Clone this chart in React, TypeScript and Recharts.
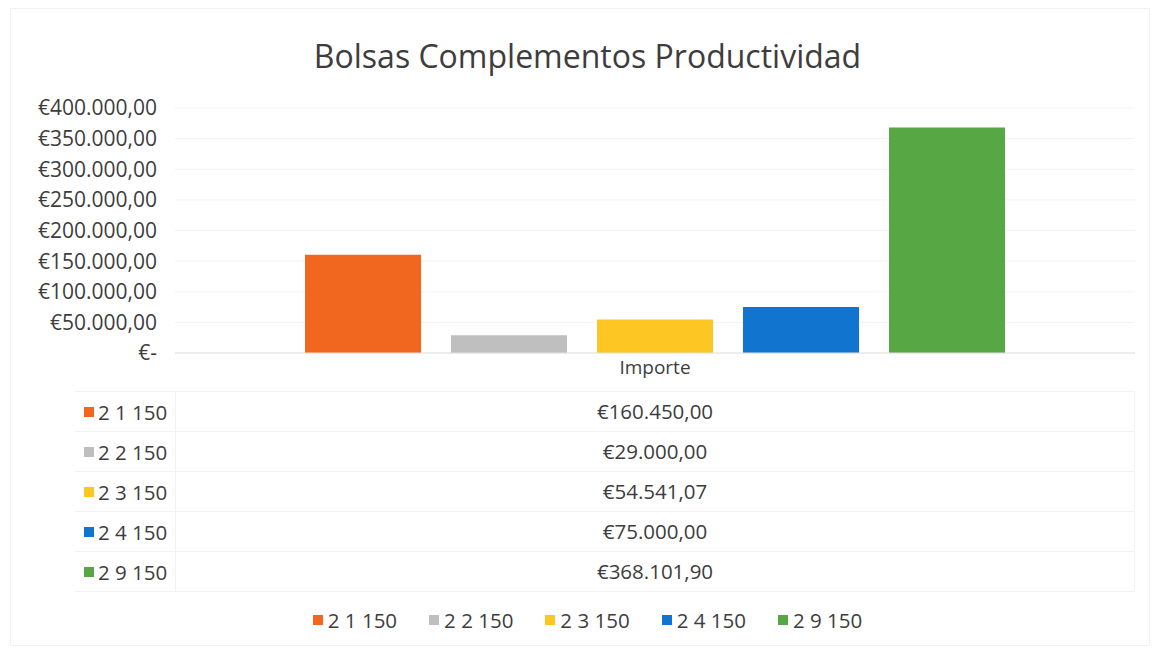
import React from 'react'
import { BarChart, Bar, XAxis, YAxis, CartesianGrid } from 'recharts'

const title = 'Bolsas Complementos Productividad'
const category = 'Importe'
const seriesNames = ['2 1 150', '2 2 150', '2 3 150', '2 4 150', '2 9 150']
const seriesValues = [160450, 29000, 54541.07, 75000, 368101.9]
const seriesColors = ['#F2671F', '#BFBFBF', '#FDC623', '#1174CF', '#57A744']
const yTicks = [0, 50000, 100000, 150000, 200000, 250000, 300000, 350000, 400000]

const FONT = '"Open Sans", "Noto Sans", sans-serif'
const TEXT = '#3d3d3d'
const LINE = '#f2f2f2'

function euro(v: number) {
  if (v === 0) return '€-'
  const [int, dec] = v.toFixed(2).split('.')
  return '€' + int.replace(/\B(?=(\d{3})+(?!\d))/g, '.') + ',' + dec
}

const row: Record<string, string | number> = { name: category }
seriesNames.forEach((n, i) => {
  row[n] = seriesValues[i]
})
const chartData = [row]

export default function App() {
  return (
    <div
      style={{
        position: 'absolute',
        left: 0,
        top: 0,
        width: 1155,
        height: 650,
        background: '#fff',
        fontFamily: FONT,
        color: TEXT,
      }}
    >
      <div
        style={{
          position: 'absolute',
          left: 10,
          top: 8,
          width: 1138,
          height: 636,
          border: '1px solid #f2f2f2',
        }}
      />
      <div
        style={{
          position: 'absolute',
          top: 34,
          left: 0,
          width: 1175,
          textAlign: 'center',
          fontSize: 32,
          lineHeight: '44px',
        }}
      >
        {title}
      </div>

      <div style={{ position: 'absolute', left: 0, top: 0 }}>
        <BarChart
          width={1155}
          height={650}
          data={chartData}
          margin={{ top: 108, right: 20, bottom: 267, left: 0 }}
          barCategoryGap={130}
          barGap={30}
        >
          <CartesianGrid vertical={false} stroke={LINE} />
          <XAxis
            dataKey="name"
            height={30}
            axisLine={{ stroke: '#e0e0e0' }}
            tickLine={false}
            tickSize={0}
            tickMargin={8}
            tick={{ fill: TEXT, fontSize: 19, fontFamily: FONT }}
          />
          <YAxis
            width={175}
            domain={[0, 400000]}
            ticks={yTicks}
            interval={0}
            axisLine={false}
            tickLine={false}
            tickSize={0}
            tickMargin={18}
            tickFormatter={euro}
            tick={{ fill: TEXT, fontSize: 21, fontFamily: FONT }}
          />
          {seriesNames.map((n, i) => (
            <Bar key={n} dataKey={n} fill={seriesColors[i]} isAnimationActive={false} />
          ))}
        </BarChart>
      </div>

      {/* data table */}
      <div
        style={{
          position: 'absolute',
          left: 75,
          top: 391,
          width: 1060,
          borderTop: `1px solid ${LINE}`,
        }}
      >
        {seriesNames.map((n, i) => (
          <div
            key={n}
            style={{
              display: 'flex',
              height: 39,
              alignItems: 'center',
              borderBottom: `1px solid ${LINE}`,
              fontSize: 20.5,
            }}
          >
            <div
              style={{
                width: 100,
                display: 'flex',
                alignItems: 'center',
                borderRight: `1px solid ${LINE}`,
                height: '100%',
              }}
            >
              <span
                style={{
                  display: 'inline-block',
                  width: 10,
                  height: 10,
                  background: seriesColors[i],
                  marginLeft: 9,
                  marginRight: 4,
                }}
              />
              {n}
            </div>
            <div
              style={{
                flex: 1,
                textAlign: 'center',
                borderRight: `1px solid ${LINE}`,
                height: '100%',
                lineHeight: '39px',
              }}
            >
              {euro(seriesValues[i])}
            </div>
          </div>
        ))}
      </div>

      {/* legend */}
      <div
        style={{
          position: 'absolute',
          top: 605,
          left: 0,
          width: 1175,
          display: 'flex',
          justifyContent: 'center',
          gap: 32,
          fontSize: 20.5,
          lineHeight: '30px',
        }}
      >
        {seriesNames.map((n, i) => (
          <div key={n} style={{ display: 'flex', alignItems: 'center' }}>
            <span
              style={{
                display: 'inline-block',
                width: 10,
                height: 10,
                background: seriesColors[i],
                marginRight: 5,
              }}
            />
            {n}
          </div>
        ))}
      </div>
    </div>
  )
}
